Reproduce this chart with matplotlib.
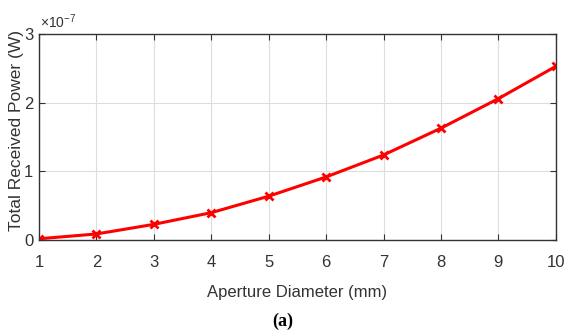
import numpy as np
import matplotlib
matplotlib.use("Agg")
import matplotlib.pyplot as plt

# aperture diameter (mm) vs total received power (x1e-7 W)
diameter = [1, 2, 3, 4, 5, 6, 7, 8, 9, 10]
power = [0.02, 0.09, 0.23, 0.40, 0.64, 0.92, 1.24, 1.63, 2.06, 2.53]
xticks = [1, 2, 3, 4, 5, 6, 7, 8, 9, 10]
yticks = [0, 1, 2, 3]

sans = ['Liberation Sans', 'DejaVu Sans']

fig = plt.figure(figsize=(5.66, 3.34), dpi=100)
ax = fig.add_axes([0.069, 0.281, 0.913, 0.617])

ax.plot(diameter, power, color='red', lw=2.2, marker='x', ms=6, mew=2)

ax.set_xlim(1, 10)
ax.set_ylim(0, 3)
ax.set_xticks(xticks)
ax.set_yticks(yticks)
ax.grid(True, color='#dddddd', lw=0.8)
ax.tick_params(direction='in', length=4, colors='#333333', labelsize=12,
               top=True, right=True)
ax.tick_params(axis='x', pad=11)
ax.tick_params(axis='y', pad=4)
for lab in ax.get_xticklabels() + ax.get_yticklabels():
    lab.set_family(sans)
for s in ax.spines.values():
    s.set_color('#333333')
    s.set_linewidth(1.0)

ax.set_xlabel('Aperture Diameter (mm)', family=sans, fontsize=12, color='#333333')
ax.xaxis.set_label_coords(0.5, -0.22)
ax.set_ylabel('Total Received Power (W)', family=sans,
              fontsize=12.5, color='#333333')
ax.yaxis.set_label_coords(-0.03, 0.53)
ax.text(0.002, 1.015, r'$\mathregular{\times10^{-7}}$', transform=ax.transAxes, fontsize=10,
        family=sans, color='#333333', va='bottom', ha='left')

fig.text(0.5, 0.039, '(a)', family=['Liberation Serif', 'DejaVu Serif'],
         fontweight='bold', fontsize=13, ha='center', va='center')

fig.savefig('out.png', dpi=100)
